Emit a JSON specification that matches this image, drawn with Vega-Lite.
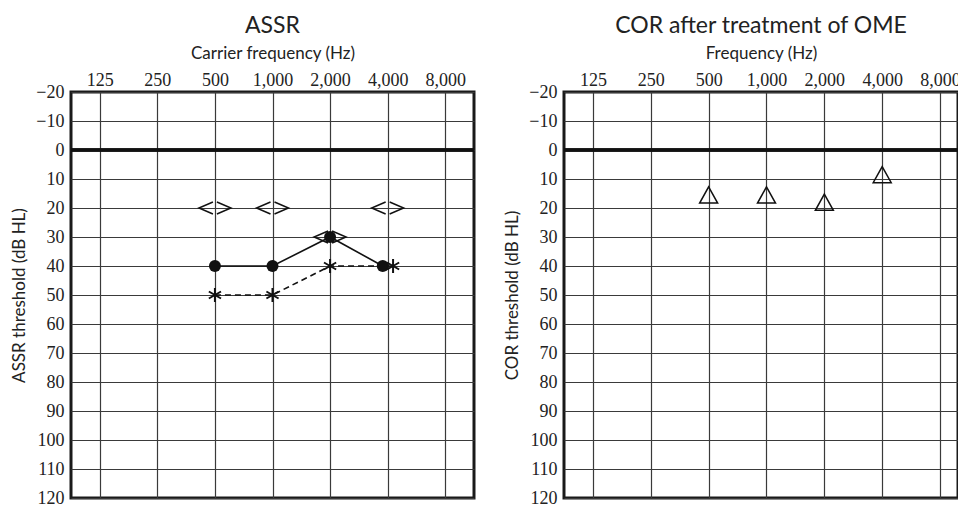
{
  "$schema": "https://vega.github.io/schema/vega-lite/v6.json",
  "background": "white",
  "padding": {"left": 9, "top": 13, "right": 0, "bottom": 0},
  "spacing": 25,
  "datasets": {
    "assrCircle": [
      {"freq": 500, "db": 40},
      {"freq": 1000, "db": 40},
      {"freq": 2000, "db": 30},
      {"freq": 3770, "db": 40}
    ],
    "assrStar": [
      {"freq": 500, "db": 50},
      {"freq": 1000, "db": 50},
      {"freq": 2000, "db": 40},
      {"freq": 4270, "db": 40}
    ],
    "assrNR": [
      {"freq": 500, "db": 20},
      {"freq": 1000, "db": 20},
      {"freq": 2000, "db": 30},
      {"freq": 4000, "db": 20}
    ],
    "cor": [
      {"freq": 500, "db": 15.5},
      {"freq": 1000, "db": 15.5},
      {"freq": 2000, "db": 18},
      {"freq": 4000, "db": 8.5}
    ]
  },
  "config": {
    "view": {"stroke": "#1a1a1a", "strokeWidth": 3},
    "axis": {
      "domain": false,
      "ticks": false,
      "tickSize": 0,
      "gridColor": "#3a3a3a",
      "gridWidth": 1.2,
      "gridOpacity": 1
    },
    "title": {"font": "Lato", "fontSize": 23, "fontWeight": "normal", "color": "#222", "offset": 6}
  },
  "hconcat": [
    {
      "title": "ASSR",
      "width": 403,
      "height": 406,
      "encoding": {
        "x": {
          "field": "freq",
          "type": "quantitative",
          "scale": {"type": "log", "base": 2, "domain": [88.388, 11313.7], "nice": false, "zero": false},
          "axis": {"orient": "top", "values": [125, 250, 500, 1000, 2000, 4000, 8000], "format": ",d", "title": "Carrier frequency (Hz)", "labelPadding": 3, "titlePadding": 9, "labelFont": "Liberation Serif", "labelFontSize": 18, "labelColor": "#222", "titleFont": "Lato", "titleFontSize": 17, "titleFontWeight": "normal", "titleColor": "#222"}
        },
        "y": {
          "field": "db",
          "type": "quantitative",
          "scale": {"domain": [-20, 120], "reverse": true, "nice": false, "zero": false},
          "axis": {"values": [-20, -10, 0, 10, 20, 30, 40, 50, 60, 70, 80, 90, 100, 110, 120], "labelExpr": "datum.value < 0 ? '−' + abs(datum.value) : datum.label", "title": "ASSR threshold (dB HL)", "labelPadding": 7, "titlePadding": 7, "labelFont": "Liberation Serif", "labelFontSize": 18, "labelColor": "#222", "titleFont": "Lato", "titleFontSize": 17, "titleFontWeight": "normal", "titleColor": "#222"}
        }
      },
      "layer": [
        {"data": {"name": "assrCircle"}, "mark": {"type": "line", "color": "#111", "strokeWidth": 1.6}},
        {"data": {"name": "assrCircle"}, "mark": {"type": "rule", "color": "#111", "strokeWidth": 3}, "encoding": {"x": null, "y": {"datum": 0}}},
        {"data": {"name": "assrStar"}, "mark": {"type": "line", "color": "#111", "strokeWidth": 1.6, "strokeDash": [6, 4]}},
        {"data": {"name": "assrCircle"}, "mark": {"type": "point", "shape": "circle", "filled": true, "color": "#111", "size": 144, "opacity": 1}},
        {"data": {"name": "assrStar"}, "mark": {"type": "point", "shape": "M0,-1L0,1M-0.87,-0.5L0.87,0.5M-0.87,0.5L0.87,-0.5", "filled": false, "color": "#111", "size": 196, "strokeWidth": 2, "opacity": 1}},
        {"data": {"name": "assrNR"}, "mark": {"type": "point", "shape": "M0.7,-0.6L-0.7,0L0.7,0.6", "filled": false, "color": "#111", "size": 400, "strokeWidth": 1.5, "xOffset": -9, "opacity": 1}},
        {"data": {"name": "assrNR"}, "mark": {"type": "point", "shape": "M-0.7,-0.6L0.7,0L-0.7,0.6", "filled": false, "color": "#111", "size": 400, "strokeWidth": 1.5, "xOffset": 9, "opacity": 1}}
      ]
    },
    {
      "title": "COR after treatment of OME",
      "width": 394,
      "height": 406,
      "data": {"name": "cor"},
      "encoding": {
        "x": {
          "field": "freq",
          "type": "quantitative",
          "scale": {"type": "log", "base": 2, "domain": [88.388, 9918], "nice": false, "zero": false},
          "axis": {"orient": "top", "values": [125, 250, 500, 1000, 2000, 4000, 8000], "format": ",d", "title": "Frequency (Hz)", "labelPadding": 3, "titlePadding": 9, "labelFont": "Liberation Serif", "labelFontSize": 18, "labelColor": "#222", "titleFont": "Lato", "titleFontSize": 17, "titleFontWeight": "normal", "titleColor": "#222"}
        },
        "y": {
          "field": "db",
          "type": "quantitative",
          "scale": {"domain": [-20, 120], "reverse": true, "nice": false, "zero": false},
          "axis": {"values": [-20, -10, 0, 10, 20, 30, 40, 50, 60, 70, 80, 90, 100, 110, 120], "labelExpr": "datum.value < 0 ? '−' + abs(datum.value) : datum.label", "title": "COR threshold (dB HL)", "labelPadding": 7, "titlePadding": 7, "labelFont": "Liberation Serif", "labelFontSize": 18, "labelColor": "#222", "titleFont": "Lato", "titleFontSize": 17, "titleFontWeight": "normal", "titleColor": "#222"}
        }
      },
      "layer": [
        {"mark": {"type": "rule", "color": "#111", "strokeWidth": 3}, "encoding": {"x": null, "y": {"datum": 0}}},
        {"mark": {"type": "point", "shape": "M0,-0.9L1,0.9L-1,0.9Z", "filled": false, "color": "#111", "size": 324, "strokeWidth": 1.5, "opacity": 1}}
      ]
    }
  ]
}
